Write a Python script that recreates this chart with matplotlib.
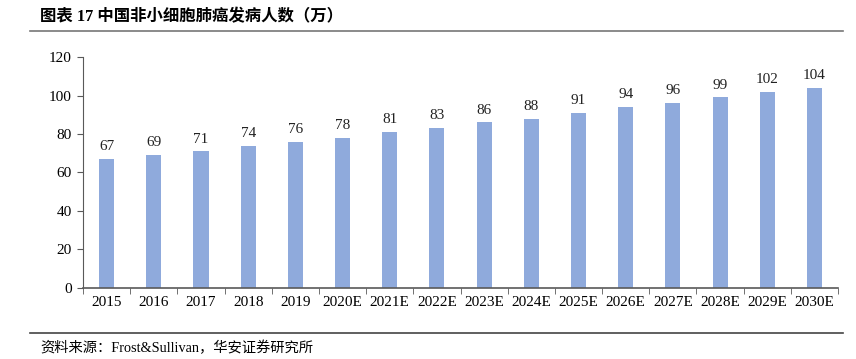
import matplotlib.pyplot as plt
from matplotlib.lines import Line2D
import numpy as np

years = ['2015', '2016', '2017', '2018', '2019', '2020E', '2021E', '2022E',
         '2023E', '2024E', '2025E', '2026E', '2027E', '2028E', '2029E', '2030E']
cases = [67, 69, 71, 74, 76, 78, 81, 83, 86, 88, 91, 94, 96, 99, 102, 104]
yticks = [0, 20, 40, 60, 80, 100, 120]

title_text = '图表 17 中国非小细胞肺癌发病人数（万）'
source_text = '资料来源：Frost&Sullivan，华安证券研究所'

SERIF = ['Liberation Serif', 'Noto Sans CJK SC']
BAR_COLOR = '#8FAADC'
AXIS_COLOR = '#595959'

plt.rcParams['font.family'] = SERIF

fig = plt.figure(figsize=(8.56, 3.59), dpi=100)
ax = fig.add_axes([0.097, 0.198, 0.882, 0.643])

x = np.arange(len(years))
bars = ax.bar(x, cases, width=0.32, color=BAR_COLOR, zorder=2)
for xi, v in zip(x, cases):
    ax.text(xi, v + 3, '%d' % v, ha='center', va='bottom', fontsize=11, color='#222222')

ax.set_xlim(-0.5, len(years) - 0.5)
ax.set_ylim(0, 120)
ax.set_yticks(yticks)
ax.set_yticklabels([str(t) for t in yticks], fontsize=11)

# category labels centred, ticks between categories
ax.set_xticks(x)
ax.set_xticklabels(years, fontsize=11)
ax.tick_params(axis='x', which='major', length=0, pad=6)
ax.set_xticks(np.arange(-0.5, len(years)), minor=True)
ax.tick_params(axis='x', which='minor', length=4, color=AXIS_COLOR, direction='out')
ax.tick_params(axis='y', length=4, color=AXIS_COLOR, direction='out', pad=4)

for side in ['top', 'right']:
    ax.spines[side].set_visible(False)
ax.spines['left'].set_color(AXIS_COLOR)
ax.spines['bottom'].set_color(AXIS_COLOR)
ax.spines['bottom'].set_linewidth(1.2)

# header / footer
fig.text(40 / 856, 1 - 17 / 359, title_text, fontsize=11.8, fontweight='bold',
         ha='left', va='center', family=SERIF)
fig.add_artist(Line2D([30 / 856, 843 / 856], [1 - 31 / 359, 1 - 31 / 359],
                      color='#777777', lw=1.2))
fig.add_artist(Line2D([30 / 856, 843 / 856], [1 - 333 / 359, 1 - 333 / 359],
                      color='#444444', lw=1.2))
fig.text(40 / 856, 1 - 348 / 359, source_text, fontsize=10.3,
         ha='left', va='center', family=SERIF)

fig.savefig('out.png', dpi=100)
